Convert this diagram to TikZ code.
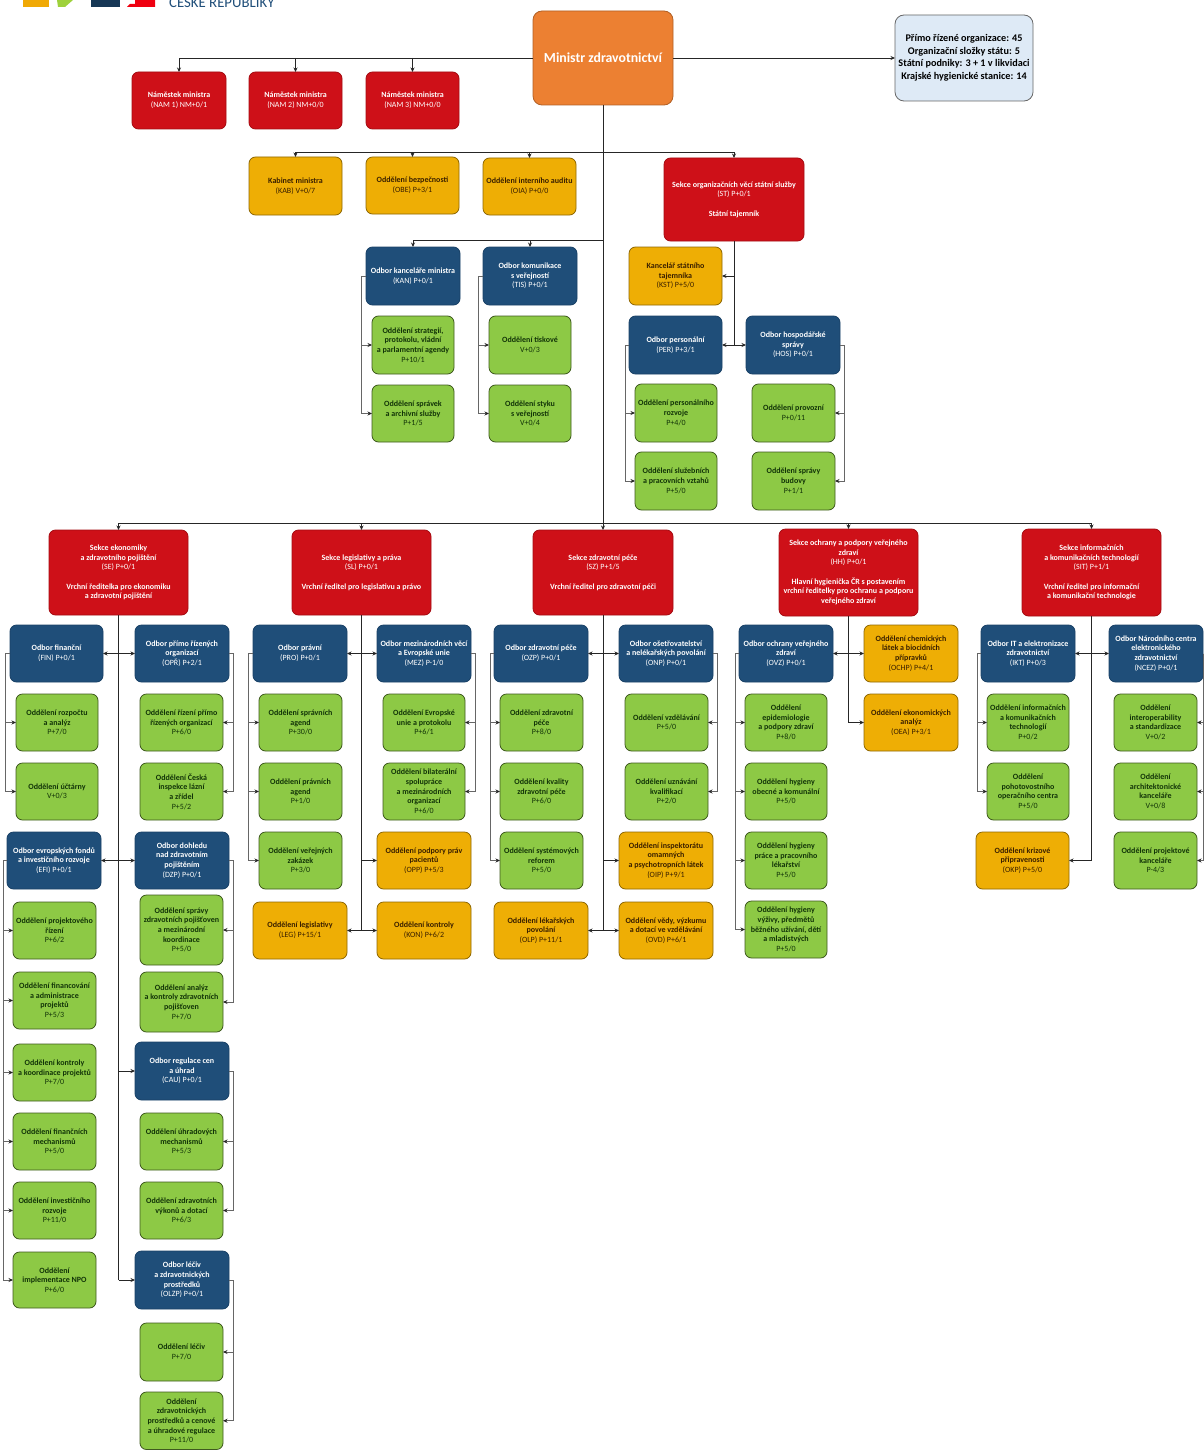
\documentclass[tikz,border=0pt]{standalone}
\usepackage{fontspec}
\setmainfont{Carlito}
\usetikzlibrary{arrows.meta}
\definecolor{cred}{HTML}{CE1018}
\definecolor{cblue}{HTML}{1F4E79}
\definecolor{cyel}{HTML}{EEAE05}
\definecolor{cgrn}{HTML}{8DC945}
\definecolor{cora}{HTML}{EC8032}
\definecolor{cinfo}{HTML}{DEEAF6}
\definecolor{ctxtg}{HTML}{123408}
\definecolor{ctxty}{HTML}{3A2000}
\newcommand{\rg}[1]{{\mdseries #1}}
\newcommand{\bx}[7][]{\node[#2,minimum width={(#5-#3)*1pt},minimum height={(#6-#4)*1pt},#1] (#7) at ({(#3+#5)/2},{(#4+#6)/2})}
\newcommand{\bl}[3][5]{\draw[brk] (#2.west) -- ++(-#1,0) |- (#3.west);}
\newcommand{\br}[3][4]{\draw[brk] (#2.east) -- ++(#1,0) |- (#3.east);}
\newcommand{\tw}[2]{\draw[trk] (#1 |- #2.east) -- (#2.east);}
\newcommand{\te}[2]{\draw[trk] (#1 |- #2.west) -- (#2.west);}
\tikzset{
 base/.style={rectangle,rounded corners=6.5pt,align=center,inner sep=0pt,outer sep=0pt,line width=0.8pt,font=\fontsize{8}{9.65}\selectfont\bfseries},
 redbox/.style={base,fill=cred,draw=cred!80!black,text=white},
 bluebox/.style={base,fill=cblue,draw=cblue!85!black,text=white},
 yelbox/.style={base,fill=cyel,draw=cyel!60!black,text=ctxty},
 grnbox/.style={base,fill=cgrn,draw=cgrn!45!black,text=ctxtg},
 orabox/.style={base,fill=cora,draw=cora!75!black,text=white,rounded corners=9pt,font=\fontsize{13.8}{16}\selectfont\bfseries},
 infobox/.style={base,fill=cinfo,draw=black!60,text=black,rounded corners=9pt,font=\fontsize{10.2}{12.5}\selectfont\bfseries},
 trk/.style={line width=0.9pt,draw=black!85,-{Stealth[length=4.5pt,width=4pt]}},
 trn/.style={line width=0.9pt,draw=black!85},
 brk/.style={line width=0.8pt,draw=black!60,-{Stealth[length=4.5pt,width=4pt,color=black!85]}},
}
\begin{document}
\begin{tikzpicture}[x=1pt,y=-1pt]
\path[fill=white] (0,0) rectangle (1203,1450);
\useasboundingbox (0,0) rectangle (1203,1450);
% logo fragment
\fill[cyel!90!orange] (23,0) -- (49,0) -- (49,7) -- (23,7) -- cycle;
\fill[cgrn!85!yellow] (57,0) -- (73,0) -- (65,7) -- (58,7) -- cycle;
\fill[cblue!70!black] (91,0) rectangle (120,7);
\fill[red!75!purple] (135,0) -- (155,0) -- (155,7) -- (127,7) -- (130,4) -- (135,4) -- cycle;
\node[text=cblue,font=\fontsize{14.8}{16}\selectfont,inner sep=0pt,anchor=base west] (logotext) at (169,7.5) {ČESKÉ REPUBLIKY};
% top
\bx{orabox}{533}{11}{673}{105}{min} {Ministr zdravotnictví};
\bx{infobox}{895}{15}{1033}{101}{info} {Přímo řízené organizace: 45\\Organizační složky státu: 5\\Státní podniky: 3 + 1 v likvidaci\\Krajské hygienické stanice: 14};
\bx{redbox}{132}{72}{226}{129}{d1} {Náměstek ministra\\\rg{(NAM 1) NM+0/1}};
\bx{redbox}{249}{72}{342}{129}{d2} {Náměstek ministra\\\rg{(NAM 2) NM+0/0}};
\bx{redbox}{366}{72}{459}{129}{d3} {Náměstek ministra\\\rg{(NAM 3) NM+0/0}};
\bx{yelbox}{249}{157}{342}{215}{kab} {Kabinet ministra\\\rg{(KAB) V+0/7}};
\bx{yelbox}{366}{157}{459}{214}{obe} {Oddělení bezpečnosti\\\rg{(OBE) P+3/1}};
\bx{yelbox}{483}{158}{576}{215}{oia} {Oddělení interního auditu\\\rg{(OIA) P+0/0}};
\bx{redbox}{664}{158}{804}{241}{st} {Sekce organizačních věcí státní služby\\\rg{(ST) P+0/1}\\[9.65pt]Státní tajemník};
% KAN TIS
\bx{bluebox}{366}{247}{460}{305}{kan} {Odbor kanceláře ministra\\\rg{(KAN) P+0/1}};
\bx{bluebox}{483}{247}{577}{305}{tis} {Odbor komunikace\\s veřejností\\\rg{(TIS) P+0/1}};
\bx{grnbox}{372}{316}{454}{374}{kan1} {Oddělení strategií,\\protokolu, vládní\\a parlamentní agendy\\\rg{P+10/1}};
\bx{grnbox}{372}{385}{454}{442}{kan2} {Oddělení správek\\a archivní služby\\\rg{P+1/5}};
\bx{grnbox}{489}{316}{571}{374}{tis1} {Oddělení tiskové\\\rg{V+0/3}};
\bx{grnbox}{489}{385}{571}{442}{tis2} {Oddělení styku\\s veřejností\\\rg{V+0/4}};
% ST subtree
\bx{yelbox}{629}{247}{722}{305}{kst} {Kancelář státního\\tajemníka\\\rg{(KST) P+5/0}};
\bx{bluebox}{629}{316}{722}{374}{per} {Odbor personální\\\rg{(PER) P+3/1}};
\bx{bluebox}{746}{316}{840}{374}{hos} {Odbor hospodářské\\správy\\\rg{(HOS) P+0/1}};
\bx{grnbox}{635}{384}{717}{442}{per1} {Oddělení personálního\\rozvoje\\\rg{P+4/0}};
\bx{grnbox}{635}{452}{717}{510}{per2} {Oddělení služebních\\a pracovních vztahů\\\rg{P+5/0}};
\bx{grnbox}{752}{384}{835}{442}{hos1} {Oddělení provozní\\\rg{P+0/11}};
\bx{grnbox}{752}{452}{835}{510}{hos2} {Oddělení správy\\budovy\\\rg{P+1/1}};
% sections
\bx{redbox}{49}{530}{188}{615}{s1} {Sekce ekonomiky\\a zdravotního pojištění\\\rg{(SE) P+0/1}\\[9.65pt]Vrchní ředitelka pro ekonomiku\\a zdravotní pojištění};
\bx{redbox}{292}{530}{431}{615}{s2} {Sekce legislativy a práva\\\rg{(SL) P+0/1}\\[9.65pt]Vrchní ředitel pro legislativu a právo};
\bx{redbox}{533}{530}{673}{615}{s3} {Sekce zdravotní péče\\\rg{(SZ) P+1/5}\\[9.65pt]Vrchní ředitel pro zdravotní péči};
\bx{redbox}{779}{529}{918}{616}{s4} {Sekce ochrany a podpory veřejného\\zdraví\\\rg{(HH) P+0/1}\\[9.65pt]Hlavní hygienička ČR s postavením\\vrchní ředitelky pro ochranu a podporu\\veřejného zdraví};
\bx{redbox}{1022}{529}{1161}{616}{s5} {Sekce informačních\\a komunikačních technologií\\\rg{(SIT) P+1/1}\\[9.65pt]Vrchní ředitel pro informační\\a komunikační technologie};
% section 1
\bx{bluebox}{10}{625}{103}{682}{fin} {Odbor finanční\\\rg{(FIN) P+0/1}};
\bx{bluebox}{135}{625}{229}{682}{opr} {Odbor přímo řízených\\organizací\\\rg{(OPŘ) P+2/1}};
\bx{grnbox}{16}{694}{98}{751}{fin1} {Oddělení rozpočtu\\a analýz\\\rg{P+7/0}};
\bx{grnbox}{16}{763}{98}{820}{fin2} {Oddělení účtárny\\\rg{V+0/3}};
\bx{grnbox}{140}{694}{223}{751}{opr1} {Oddělení řízení přímo\\řízených organizací\\\rg{P+6/0}};
\bx{grnbox}{140}{763}{223}{820}{opr2} {Oddělení Česká\\inspekce lázní\\a zřídel\\\rg{P+5/2}};
\bx{bluebox}{7}{832}{101}{889}{efi} {Odbor evropských fondů\\a investičního rozvoje\\\rg{(EFI) P+0/1}};
\bx{bluebox}{135}{832}{229}{889}{dzp} {Odbor dohledu\\nad zdravotním\\pojištěním\\\rg{(DZP) P+0/1}};
\bx{grnbox}{13}{902}{96}{959}{efi1} {Oddělení projektového\\řízení\\\rg{P+6/2}};
\bx{grnbox}{13}{972}{96}{1029}{efi2} {Oddělení financování\\a administrace\\projektů\\\rg{P+5/3}};
\bx{grnbox}{13}{1044}{96}{1101}{efi3} {Oddělení kontroly\\a koordinace projektů\\\rg{P+7/0}};
\bx{grnbox}{13}{1113}{96}{1170}{efi4} {Oddělení finančních\\mechanismů\\\rg{P+5/0}};
\bx{grnbox}{13}{1182}{96}{1239}{efi5} {Oddělení investičního\\rozvoje\\\rg{P+11/0}};
\bx{grnbox}{13}{1252}{96}{1308}{efi6} {Oddělení\\implementace NPO\\\rg{P+6/0}};
\bx{grnbox}{140}{895}{223}{965}{dzp1} {Oddělení správy\\zdravotních pojišťoven\\a mezinárodní\\koordinace\\\rg{P+5/0}};
\bx{grnbox}{140}{972}{223}{1032}{dzp2} {Oddělení analýz\\a kontroly zdravotních\\pojišťoven\\\rg{P+7/0}};
\bx{bluebox}{135}{1042}{229}{1100}{cau} {Odbor regulace cen\\a úhrad\\\rg{(CAU) P+0/1}};
\bx{grnbox}{140}{1113}{223}{1170}{cau1} {Oddělení úhradových\\mechanismů\\\rg{P+5/3}};
\bx{grnbox}{140}{1182}{223}{1239}{cau2} {Oddělení zdravotních\\výkonů a dotací\\\rg{P+6/3}};
\bx{bluebox}{135}{1251}{229}{1309}{olz} {Odbor léčiv\\a zdravotnických\\prostředků\\\rg{(OLZP) P+0/1}};
\bx{grnbox}{140}{1323}{223}{1381}{olz1} {Oddělení léčiv\\\rg{P+7/0}};
\bx{grnbox}{140}{1392}{223}{1449.5}{olz2} {Oddělení\\zdravotnických\\prostředků a cenové\\a úhradové regulace\\\rg{P+11/0}};
% section 2
\bx{bluebox}{253}{625}{347}{682}{pro} {Odbor právní\\\rg{(PRO) P+0/1}};
\bx{bluebox}{377}{625}{471}{682}{mez} {Odbor mezinárodních věcí\\a Evropské unie\\\rg{(MEZ) P-1/0}};
\bx{grnbox}{259}{694}{342}{751}{pro1} {Oddělení správních\\agend\\\rg{P+30/0}};
\bx{grnbox}{259}{763}{342}{820}{pro2} {Oddělení právních\\agend\\\rg{P+1/0}};
\bx{grnbox}{259}{832}{342}{889}{pro3} {Oddělení veřejných\\zakázek\\\rg{P+3/0}};
\bx{grnbox}{383}{694}{465}{751}{mez1} {Oddělení Evropské\\unie a protokolu\\\rg{P+6/1}};
\bx{grnbox}{383}{763}{465}{820}{mez2} {Oddělení bilaterální\\spolupráce\\a mezinárodních\\organizací\\\rg{P+6/0}};
\bx{yelbox}{377}{832}{471}{889}{opp} {Oddělení podpory práv\\pacientů\\\rg{(OPP) P+5/3}};
\bx{yelbox}{253}{902}{347}{959}{leg} {Oddělení legislativy\\\rg{(LEG) P+15/1}};
\bx{yelbox}{377}{902}{471}{959}{kon} {Oddělení kontroly\\\rg{(KON) P+6/2}};
% section 3
\bx{bluebox}{494}{625}{588}{682}{ozp} {Odbor zdravotní péče\\\rg{(OZP) P+0/1}};
\bx{bluebox}{619}{625}{713}{682}{onp} {Odbor ošetřovatelství\\a nelékařských povolání\\\rg{(ONP) P+0/1}};
\bx{grnbox}{500}{694}{583}{751}{ozp1} {Oddělení zdravotní\\péče\\\rg{P+8/0}};
\bx{grnbox}{500}{763}{583}{820}{ozp2} {Oddělení kvality\\zdravotní péče\\\rg{P+6/0}};
\bx{grnbox}{500}{832}{583}{889}{ozp3} {Oddělení systémových\\reforem\\\rg{P+5/0}};
\bx{grnbox}{625}{694}{708}{751}{onp1} {Oddělení vzdělávání\\\rg{P+5/0}};
\bx{grnbox}{625}{763}{708}{820}{onp2} {Oddělení uznávání\\kvalifikací\\\rg{P+2/0}};
\bx{yelbox}{619}{832}{713}{889}{oip} {Oddělení inspektorátu\\omamných\\a psychotropních látek\\\rg{(OIP) P+9/1}};
\bx{yelbox}{494}{902}{588}{959}{olp} {Oddělení lékařských\\povolání\\\rg{(OLP) P+11/1}};
\bx{yelbox}{619}{902}{713}{959}{ovd} {Oddělení vědy, výzkumu\\a dotací ve vzdělávání\\\rg{(OVD) P+6/1}};
% section 4
\bx{bluebox}{739}{625}{833}{682}{ovz} {Odbor ochrany veřejného\\zdraví\\\rg{(OVZ) P+0/1}};
\bx{yelbox}{864}{625}{958}{682}{och} {Oddělení chemických\\látek a biocidních\\přípravků\\\rg{(OCHP) P+4/1}};
\bx{yelbox}{864}{694}{958}{751}{oea} {Oddělení ekonomických\\analýz\\\rg{(OEA) P+3/1}};
\bx{grnbox}{745}{694}{827}{751}{ovz1} {Oddělení\\epidemiologie\\a podpory zdraví\\\rg{P+8/0}};
\bx{grnbox}{745}{763}{827}{820}{ovz2} {Oddělení hygieny\\obecné a komunální\\\rg{P+5/0}};
\bx{grnbox}{745}{832}{827}{889}{ovz3} {Oddělení hygieny\\práce a pracovního\\lékařství\\\rg{P+5/0}};
\bx{grnbox}{745}{901}{827}{958}{ovz4} {Oddělení hygieny\\výživy, předmětů\\běžného užívání, dětí\\a mladistvých\\\rg{P+5/0}};
% section 5
\bx{bluebox}{981}{625}{1075}{682}{ikt} {Odbor IT a elektronizace\\zdravotnictví\\\rg{(IKT) P+0/3}};
\bx{bluebox}{1109}{625}{1203}{682}{ncz} {Odbor Národního centra\\elektronického\\zdravotnictví\\\rg{(NCEZ) P+0/1}};
\bx{grnbox}{987}{694}{1069}{751}{ikt1} {Oddělení informačních\\a komunikačních\\technologií\\\rg{P+0/2}};
\bx{grnbox}{987}{763}{1069}{820}{ikt2} {Oddělení\\pohotovostního\\operačního centra\\\rg{P+5/0}};
\bx{yelbox}{976}{832}{1069}{889}{okp} {Oddělení krizové\\připravenosti\\\rg{(OKP) P+5/0}};
\bx{grnbox}{1114}{694}{1197}{751}{ncz1} {Oddělení\\interoperability\\a standardizace\\\rg{V+0/2}};
\bx{grnbox}{1114}{763}{1197}{820}{ncz2} {Oddělení\\architektonické\\kanceláře\\\rg{V+0/8}};
\bx{grnbox}{1114}{832}{1197}{889}{ncz3} {Oddělení projektové\\kanceláře\\\rg{P-4/3}};
% junctions
\coordinate (j1) at (603,152);
\coordinate (j2) at (603,240);
\coordinate (j3) at (603,523);
% connectors: top
\draw[trk] (min.west) -| (d1.north);
\draw[trk] (min.west -| d2.north) -- (d2.north);
\draw[trk] (min.west -| d3.north) -- (d3.north);
\draw[trk] (min.east) -- (info.west);
\draw[trk] (min.south) -- (s3.north);
\draw[trk] (j1) -| (kab.north);
\draw[trk] (j1 -| obe.north) -- (obe.north);
\draw[trk] (j1 -| oia.north) -- (oia.north);
\draw[trk] (j1) -| (st.north);
\draw[trk] (j2) -| (kan.north);
\draw[trk] (j2 -| tis.north) -- (tis.north);
\draw[trk] (j3) -| (s1.north);
\draw[trk] (j3 -| s2.north) -- (s2.north);
\draw[trk] (j3 -| s4.north) -- (s4.north);
\draw[trk] (j3) -| (s5.north);
% ST
\draw[trn] (st.south) -- (st.south |- per.east);
\tw{st.south}{kst}
\tw{st.south}{per}
\te{st.south}{hos}
\bl{kan}{kan1}\bl{kan}{kan2}
\bl{tis}{tis1}\bl{tis}{tis2}
\bl[4]{per}{per1}\bl[4]{per}{per2}
\br{hos}{hos1}\br{hos}{hos2}
% S1
\draw[trn] (s1.south) -- (s1.south |- olz.west);
\tw{s1.south}{fin}\te{s1.south}{opr}
\tw{s1.south}{efi}\te{s1.south}{dzp}
\te{s1.south}{cau}\te{s1.south}{olz}
\bl{fin}{fin1}\bl{fin}{fin2}
\br{opr}{opr1}\br{opr}{opr2}
\bl[4]{efi}{efi1}\bl[4]{efi}{efi2}\bl[4]{efi}{efi3}\bl[4]{efi}{efi4}\bl[4]{efi}{efi5}\bl[4]{efi}{efi6}
\br{dzp}{dzp1}\br{dzp}{dzp2}
\br{cau}{cau1}\br{cau}{cau2}
\br{olz}{olz1}\br{olz}{olz2}
% S2
\draw[trn] (s2.south) -- (s2.south |- leg.east);
\tw{s2.south}{pro}\te{s2.south}{mez}
\te{s2.south}{opp}\tw{s2.south}{leg}\te{s2.south}{kon}
\bl{pro}{pro1}\bl{pro}{pro2}\bl{pro}{pro3}
\br{mez}{mez1}\br{mez}{mez2}
% S3
\draw[trn] (s3.south) -- (s3.south |- olp.east);
\tw{s3.south}{ozp}\te{s3.south}{onp}
\te{s3.south}{oip}\tw{s3.south}{olp}\te{s3.south}{ovd}
\bl[4]{ozp}{ozp1}\bl[4]{ozp}{ozp2}\bl[4]{ozp}{ozp3}
\br{onp}{onp1}\br{onp}{onp2}
% S4
\draw[trn] (s4.south) -- (s4.south |- oea.west);
\tw{s4.south}{ovz}\te{s4.south}{och}\te{s4.south}{oea}
\bl[4]{ovz}{ovz1}\bl[4]{ovz}{ovz2}\bl[4]{ovz}{ovz3}\bl[4]{ovz}{ovz4}
% S5
\draw[trn] (s5.south) -- (s5.south |- okp.east);
\tw{s5.south}{ikt}\te{s5.south}{ncz}\tw{s5.south}{okp}
\bl[4]{ikt}{ikt1}\bl[4]{ikt}{ikt2}
\br[0]{ncz}{ncz1}\br[0]{ncz}{ncz2}\br[0]{ncz}{ncz3}
\end{tikzpicture}
\end{document}
